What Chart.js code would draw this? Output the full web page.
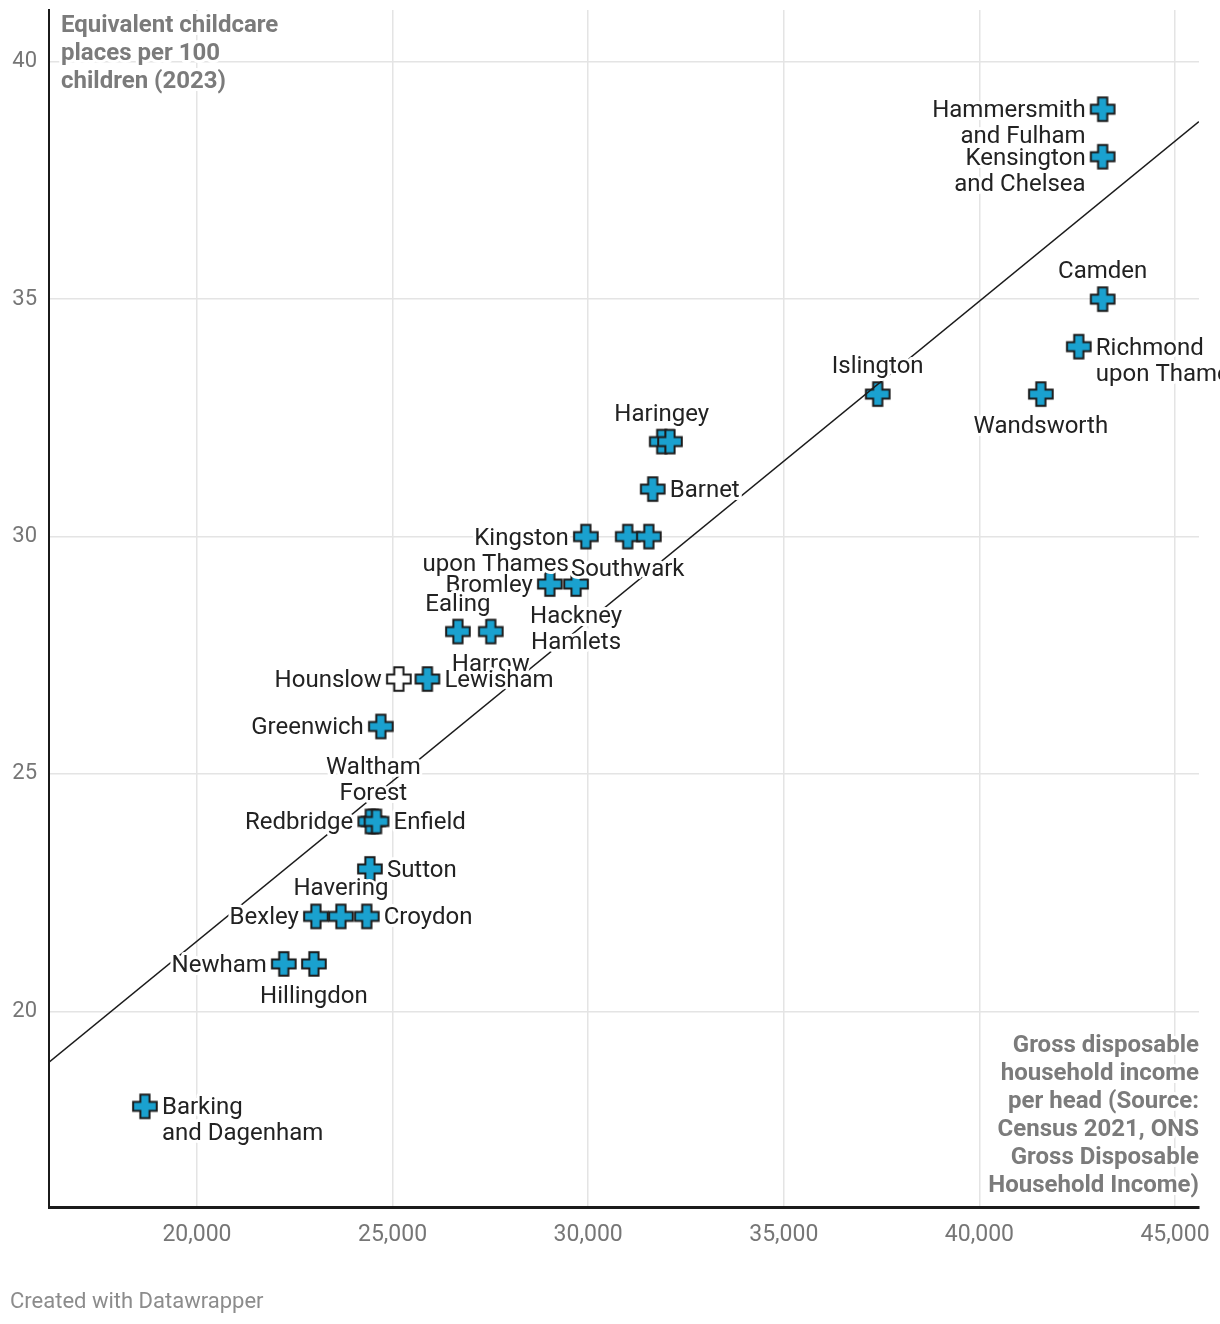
<!DOCTYPE html>
<html>
<head>
<meta charset="utf-8">
<script src="https://cdn.jsdelivr.net/npm/chart.js@4.4.1/dist/chart.umd.min.js"></script>
<style>
    html, body { margin: 0; padding: 0; background: #fff; }
    #wrap { width: 1220px; height: 1324px; }
</style>
</head>
<body>
<div id="wrap"><canvas id="chart" width="1220" height="1324"></canvas></div>
<script>
// London boroughs - childcare places vs disposable income

const boroughs = [
    'Hammersmith\nand Fulham', 'Kensington\nand Chelsea', 'Camden', 'Richmond\nupon Thames',
    'Wandsworth', 'Islington', 'Haringey', 'Westminster', 'Barnet',
    'Bromley', 'Kingston\nupon Thames', 'Southwark', 'Tower Hamlets', 'Hackney\nHamlets',
    'Ealing', 'Harrow', 'Hounslow', 'Lewisham', 'Greenwich',
    'Waltham\nForest', 'Redbridge', 'Enfield', 'Sutton',
    'Havering', 'Bexley', 'Croydon', 'Newham', 'Hillingdon', 'Barking\nand Dagenham'
];
const income = [
    43150, 43150, 43150, 42540,
    41570, 37400, 31880, 32090, 31650,
    29020, 29940, 31010, 31550, 29690,
    26670, 27510, 25160, 25890, 24700,
    24510, 24430, 24590, 24420,
    23680, 23040, 24340, 22220, 22990, 18670
];
const places = [
    39, 38, 35, 34,
    33, 33, 32, 32, 31,
    29, 30, 30, 30, 29,
    28, 28, 27, 27, 26,
    24, 24, 24, 23,
    22, 22, 22, 21, 21, 18
];
// where each name sits next to its marker
const labelSide = [
    'left', 'left', 'above', 'right',
    'below', 'above', 'above', 'none', 'right',
    'left', 'left', 'below', 'none', 'below',
    'above', 'below', 'left', 'right', 'left',
    'above', 'left', 'right', 'right',
    'above', 'left', 'right', 'left', 'below', 'right'
];
const hollowBoroughs = ['Hounslow'];

const trendIncome = [16218, 45613];
const trendPlaces = [18.93, 38.74];

const xTicks = [20000, 25000, 30000, 35000, 40000, 45000];
const yTicks = [20, 25, 30, 35, 40];

const yTitle = ['Equivalent childcare', 'places per 100', 'children (2023)'];
const xTitle = ['Gross disposable', 'household income', 'per head (Source:', 'Census 2021, ONS', 'Gross Disposable', 'Household Income)'];
const footer = 'Created with Datawrapper';

const FONT = 'Roboto, "Noto Sans", sans-serif';

function makeCross(fill) {
    const c = document.createElement('canvas');
    c.width = 28; c.height = 28;
    const g = c.getContext('2d');
    const m = 14, h = 11.8, a = 4.6;
    g.beginPath();
    g.moveTo(m - a, m - h); g.lineTo(m + a, m - h); g.lineTo(m + a, m - a);
    g.lineTo(m + h, m - a); g.lineTo(m + h, m + a); g.lineTo(m + a, m + a);
    g.lineTo(m + a, m + h); g.lineTo(m - a, m + h); g.lineTo(m - a, m + a);
    g.lineTo(m - h, m + a); g.lineTo(m - h, m - a); g.lineTo(m - a, m - a);
    g.closePath();
    g.fillStyle = fill;
    g.fill();
    g.lineWidth = 2;
    g.strokeStyle = '#1b1b1b';
    g.stroke();
    return c;
}
const blueCross = makeCross('#1aa1cf');
const whiteCross = makeCross('#ffffff');

function haloText(ctx, text, x, y) {
    ctx.lineWidth = 6;
    ctx.lineJoin = 'round';
    ctx.strokeStyle = '#ffffff';
    ctx.strokeText(text, x, y);
    ctx.fillText(text, x, y);
}

const labelPlugin = {
    id: 'labels',
    afterDatasetsDraw(chart) {
        const ctx = chart.ctx;
        const meta = chart.getDatasetMeta(1);
        ctx.save();
        ctx.font = '24px ' + FONT;
        ctx.fillStyle = '#222';
        ctx.textBaseline = 'middle';
        boroughs.forEach((name, i) => {
            const side = labelSide[i];
            if (side === 'none') return;
            const pt = meta.data[i];
            const lines = name.split('\n');
            const lh = 26;
            let x = pt.x, y = pt.y + 2;
            if (side === 'left') { ctx.textAlign = 'right'; x -= 17; }
            else if (side === 'right') { ctx.textAlign = 'left'; x += 17; }
            else if (side === 'above') { ctx.textAlign = 'center'; y -= 29 + lh * (lines.length - 1); }
            else { ctx.textAlign = 'center'; y += 31; }
            lines.forEach((l, k) => haloText(ctx, l, x, y + k * lh));
        });
        ctx.restore();
    },
    afterDraw(chart) {
        const ctx = chart.ctx;
        const area = chart.chartArea;
        ctx.save();
        ctx.font = 'bold 24px ' + FONT;
        ctx.fillStyle = '#7b7b7b';
        ctx.textBaseline = 'middle';
        ctx.textAlign = 'left';
        yTitle.forEach((l, k) => haloText(ctx, l, area.left + 12, 26 + k * 28));
        ctx.textAlign = 'right';
        xTitle.forEach((l, k) => haloText(ctx, l, area.right, 1046 + k * 28));
        ctx.font = '22px ' + FONT;
        ctx.fillStyle = '#8c8c8c';
        ctx.textAlign = 'left';
        ctx.fillText(footer, 10, 1302);
        ctx.restore();
    }
};

new Chart(document.getElementById('chart'), {
    type: 'scatter',
    data: {
        datasets: [
            {
                type: 'line',
                data: trendIncome.map((v, i) => ({ x: v, y: trendPlaces[i] })),
                borderColor: '#1b1b1b',
                borderWidth: 1.6,
                pointRadius: 0,
                fill: false
            },
            {
                data: income.map((v, i) => ({ x: v, y: places[i] })),
                pointStyle: c => hollowBoroughs.includes((boroughs[c.dataIndex] || '')) ? whiteCross : blueCross
            }
        ]
    },
    options: {
        responsive: false,
        animation: false,
        layout: { padding: { top: 10, right: 21, left: 0, bottom: 0 } },
        plugins: { legend: { display: false }, tooltip: { enabled: false } },
        scales: {
            x: {
                type: 'linear',
                min: 16218,
                max: 45613,
                afterBuildTicks: s => { s.ticks = xTicks.map(v => ({ value: v })); },
                afterFit: s => { s.height = 117; s.paddingLeft = 0; s.paddingRight = 0; },
                grid: { color: '#e4e4e4', lineWidth: 1.5, drawTicks: false },
                border: { color: '#1b1b1b', width: 3 },
                ticks: {
                    color: '#767676',
                    padding: 14,
                    maxRotation: 0,
                    font: { family: FONT, size: 23 },
                    callback: v => v.toLocaleString('en-US')
                }
            },
            y: {
                min: 15.88,
                max: 41.09,
                afterBuildTicks: s => { s.ticks = yTicks.map(v => ({ value: v })); },
                afterFit: s => { s.width = 49; s.paddingTop = 0; s.paddingBottom = 0; },
                grid: { color: '#e4e4e4', lineWidth: 1.5, drawTicks: false },
                border: { color: '#1b1b1b', width: 2 },
                ticks: {
                    color: '#767676',
                    padding: 12,
                    font: { family: FONT, size: 22 }
                }
            }
        }
    },
    plugins: [labelPlugin]
});
</script>
</body>
</html>
